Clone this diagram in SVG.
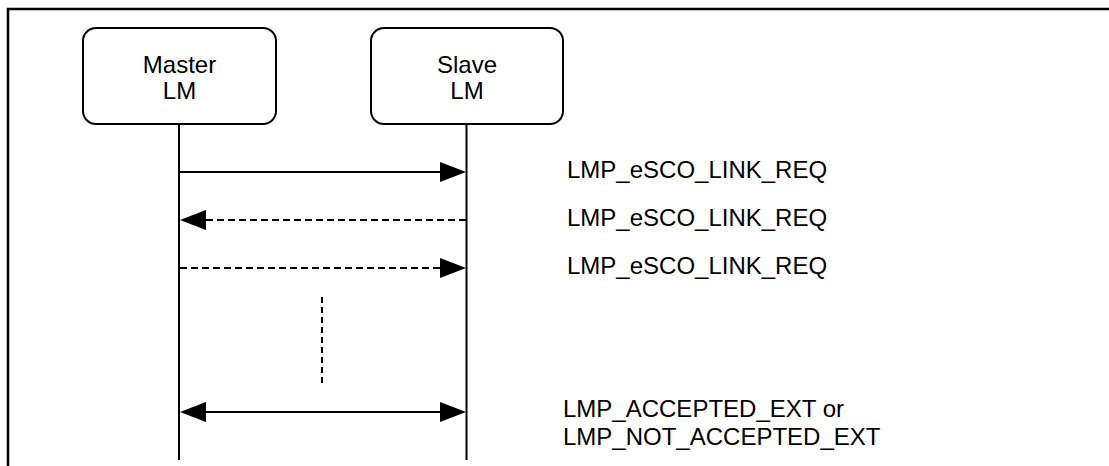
<svg xmlns="http://www.w3.org/2000/svg" width="1109" height="466" viewBox="0 0 1109 466">
<style>
.box{fill:#fff;stroke:#000;stroke-width:2}
.t{font-family:"Liberation Sans",Arial,sans-serif;font-size:24px;fill:#000}
.life{stroke:#000;stroke-width:2;fill:none}
.msg{stroke:#000;stroke-width:2;fill:none}
.dash{stroke-dasharray:7 4}
.head{fill:#000;stroke:none}
</style>
<rect width="1109" height="466" fill="#fff"/>
<path d="M8,466 V9 H1109" fill="none" stroke="#000" stroke-width="2.5"/>
<g id="master">
<rect class="box" x="83" y="28" width="193" height="96" rx="13"/>
<text class="t" x="179.5" y="73" text-anchor="middle">Master</text>
<text class="t" x="179.5" y="99" text-anchor="middle">LM</text>
</g>
<g id="slave">
<rect class="box" x="371" y="28" width="192" height="96" rx="13"/>
<text class="t" x="467" y="73" text-anchor="middle">Slave</text>
<text class="t" x="467" y="99" text-anchor="middle">LM</text>
</g>
<g id="connectors">
<line class="life" x1="179" y1="124" x2="179" y2="460"/>
<line class="life" x1="466.5" y1="124" x2="466.5" y2="460"/>
<line class="msg" x1="179" y1="172" x2="442" y2="172"/>
<polygon class="head" points="466,172 440,162 440,182"/>
<line class="msg dash" x1="466" y1="220" x2="204" y2="220"/>
<polygon class="head" points="180,220 206,210 206,230"/>
<line class="msg dash" x1="180" y1="268" x2="442" y2="268"/>
<polygon class="head" points="466,268 440,258 440,278"/>
<line class="msg" x1="322" y1="297" x2="322" y2="387" stroke-dasharray="6 4"/>
<line class="msg" x1="204" y1="412" x2="442" y2="412"/>
<polygon class="head" points="180,412 206,402 206,422"/>
<polygon class="head" points="466,412 440,402 440,422"/>
</g>
<g id="labels">
<text class="t" x="567" y="178">LMP_eSCO_LINK_REQ</text>
<text class="t" x="567" y="226">LMP_eSCO_LINK_REQ</text>
<text class="t" x="567" y="274">LMP_eSCO_LINK_REQ</text>
<text class="t" x="563" y="417">LMP_ACCEPTED_EXT or</text>
<text class="t" x="563" y="445">LMP_NOT_ACCEPTED_EXT</text>
</g>
</svg>
